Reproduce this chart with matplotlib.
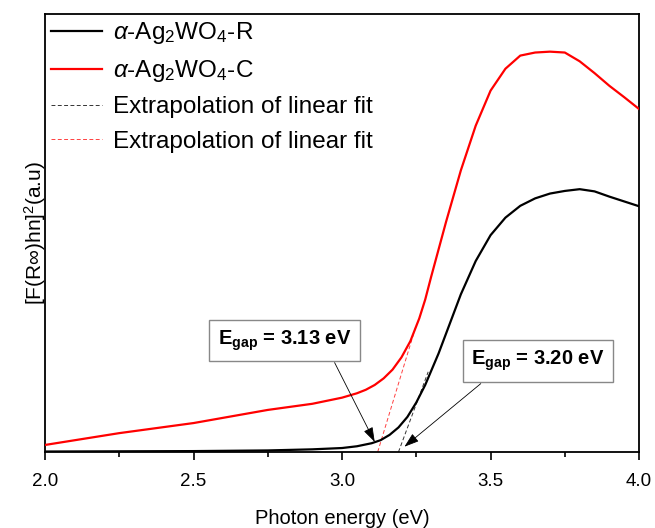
import matplotlib
matplotlib.use("Agg")
import matplotlib.pyplot as plt
from matplotlib.ticker import MultipleLocator, NullLocator

# ---- data (y in arbitrary units, 0..100) ----
energy_R = [2.00, 2.25, 2.50, 2.75, 2.90, 3.00, 3.05, 3.10, 3.13, 3.16, 3.19,
            3.22, 3.25, 3.28, 3.30, 3.325, 3.35, 3.375, 3.40, 3.45, 3.50, 3.55,
            3.60, 3.65, 3.70, 3.75, 3.80, 3.85, 3.90, 3.95, 4.00]
signal_R = [0.1, 0.15, 0.2, 0.35, 0.6, 0.9, 1.3, 2.0, 2.7, 3.9, 5.6,
            8.0, 11.3, 15.3, 18.5, 22.5, 27.0, 31.5, 36.0, 43.6, 49.5, 53.5,
            56.2, 57.9, 59.0, 59.6, 60.0, 59.5, 58.3, 57.2, 56.1]

energy_C = [2.00, 2.25, 2.50, 2.75, 2.90, 2.95, 3.00, 3.05, 3.08, 3.11, 3.14,
            3.17, 3.20, 3.23, 3.26, 3.28, 3.30, 3.35, 3.40, 3.45, 3.50, 3.55,
            3.60, 3.65, 3.70, 3.75, 3.80, 3.85, 3.90, 3.95, 4.00]
signal_C = [1.6, 4.3, 6.6, 9.6, 11.0, 11.7, 12.4, 13.4, 14.2, 15.3, 16.8,
            18.8, 21.6, 25.3, 30.5, 34.8, 40.0, 52.5, 64.3, 74.5, 82.5, 87.5,
            90.5, 91.2, 91.4, 91.2, 89.2, 86.5, 83.6, 81.0, 78.3]

# extrapolated linear fits (end points)
fit_x_R = [3.19, 3.29]
fit_y_R = [0.0, 18.3]
fit_x_C = [3.12, 3.25]
fit_y_C = [0.0, 29.0]

egap_R = 3.20
egap_C = 3.13

plt.rcParams.update({
    "font.family": ["Liberation Sans", "DejaVu Sans"],
    "mathtext.fontset": "custom",
    "mathtext.rm": "Liberation Sans",
    "mathtext.it": "Liberation Sans:italic",
    "mathtext.bf": "Liberation Sans:bold",
    "figure.facecolor": "white",
})

fig = plt.figure(figsize=(6.55, 5.28), dpi=100)
ax = fig.add_axes([0.0687, 0.144, 0.907, 0.8295])

ax.plot(energy_R, signal_R, color="black", lw=1.6, label=r"$\alpha$-Ag$_2$WO$_4$-R", zorder=3)
ax.plot(energy_C, signal_C, color="red", lw=1.6, label=r"$\alpha$-Ag$_2$WO$_4$-C", zorder=3)
ax.plot(fit_x_R, fit_y_R, color="#333333", lw=0.7, ls=(0, (4, 2.5)),
        label="Extrapolation of linear fit", zorder=2)
ax.plot(fit_x_C, fit_y_C, color="#ff4040", lw=0.7, ls=(0, (4, 2.5)),
        label="Extrapolation of linear fit", zorder=2)

ax.set_xlim(2.0, 4.0)
ax.set_ylim(0, 100)
ax.xaxis.set_major_locator(MultipleLocator(0.5))
ax.xaxis.set_minor_locator(MultipleLocator(0.25))
ax.yaxis.set_major_locator(NullLocator())
ax.tick_params(axis="x", which="major", direction="out", length=6, width=1.2,
               labelsize=13.5, pad=9)
ax.tick_params(axis="x", which="minor", direction="out", length=3.5, width=1.2)
for s in ax.spines.values():
    s.set_linewidth(1.3)

ax.set_xlabel("Photon energy (eV)", fontsize=14.5, labelpad=14)
ax.set_ylabel(r"[F(R$\infty$)hn]$^2$(a.u)", fontsize=15, labelpad=-2)

leg = ax.legend(loc="upper left", bbox_to_anchor=(0, 1), frameon=False,
                fontsize=17.5, handlelength=2.1, handletextpad=0.45,
                borderaxespad=0, borderpad=0.25, labelspacing=0.5)

box = dict(boxstyle="square,pad=0.42", facecolor="white", edgecolor="#888888", lw=1.0)
arrow = dict(arrowstyle="-|>,head_length=0.9,head_width=0.3", color="black",
             lw=0.6, shrinkA=0, shrinkB=0)

ax.text(2.806, 25.4, r"E$_\mathbf{gap}$ = %.2f eV" % egap_C, fontsize=14.5,
        fontweight="bold", ha="center", va="center", bbox=box, zorder=5)
ax.annotate("", xy=(3.11, 2.3), xytext=(2.975, 20.4), arrowprops=arrow, zorder=5)

ax.text(3.659, 20.8, r"E$_\mathbf{gap}$ = %.2f eV" % egap_R, fontsize=14.5,
        fontweight="bold", ha="center", va="center", bbox=box, zorder=5)
ax.annotate("", xy=(3.21, 1.2), xytext=(3.467, 15.6), arrowprops=arrow, zorder=5)

fig.savefig("out.png", dpi=100)
